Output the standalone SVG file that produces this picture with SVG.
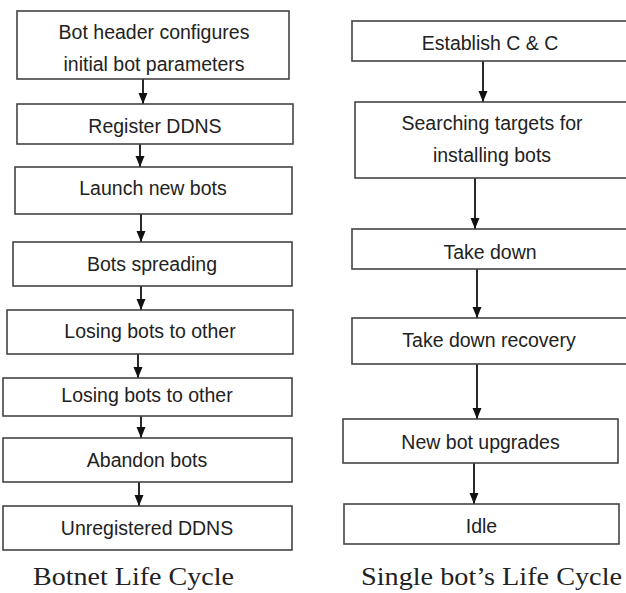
<svg xmlns="http://www.w3.org/2000/svg" width="626" height="593" viewBox="0 0 626 593">
<style>
.box{fill:#fff;stroke:#444;stroke-width:1.6}
.t{font-family:"Liberation Sans",Arial,sans-serif;font-size:19.5px;fill:#222;text-anchor:middle}
.cap{font-family:"Liberation Serif","Times New Roman",serif;font-size:26px;fill:#222}
.c{stroke:#111;stroke-width:1.8;fill:none;marker-end:url(#ah)}
</style>
<defs>
<marker id="ah" markerUnits="userSpaceOnUse" markerWidth="12" markerHeight="10" refX="11" refY="5" orient="auto">
<path d="M0,0.5 L11,5 L0,9.5 z" fill="#111"/>
</marker>
</defs>
<rect width="626" height="593" fill="#fff"/>
<g id="connectors">
<line class="c" x1="143" y1="79" x2="143" y2="104"/>
<line class="c" x1="140" y1="144" x2="140" y2="167"/>
<line class="c" x1="141" y1="214" x2="141" y2="242"/>
<line class="c" x1="141" y1="286" x2="141" y2="310"/>
<line class="c" x1="138" y1="354" x2="138" y2="378"/>
<line class="c" x1="141" y1="416" x2="141" y2="438"/>
<line class="c" x1="139" y1="482" x2="139" y2="506"/>
<line class="c" x1="483" y1="61" x2="483" y2="102"/>
<line class="c" x1="475" y1="178" x2="475" y2="229"/>
<line class="c" x1="477" y1="269" x2="477" y2="318"/>
<line class="c" x1="477" y1="364" x2="477" y2="419"/>
<line class="c" x1="474" y1="463" x2="474" y2="504"/>
</g>
<g id="l1"><rect class="box" x="17" y="11" width="272" height="68"/><text class="t" x="154" y="39">Bot header configures</text><text class="t" x="154" y="71">initial bot parameters</text></g>
<g id="l2"><rect class="box" x="17" y="104" width="276" height="40"/><text class="t" x="155" y="133">Register DDNS</text></g>
<g id="l3"><rect class="box" x="15" y="167" width="277" height="47"/><text class="t" x="153" y="195">Launch new bots</text></g>
<g id="l4"><rect class="box" x="13" y="242" width="279" height="44"/><text class="t" x="152" y="271">Bots spreading</text></g>
<g id="l5"><rect class="box" x="7" y="310" width="286" height="44"/><text class="t" x="150" y="338">Losing bots to other</text></g>
<g id="l6"><rect class="box" x="3" y="378" width="289" height="38"/><text class="t" x="147" y="402">Losing bots to other</text></g>
<g id="l7"><rect class="box" x="3" y="438" width="289" height="44"/><text class="t" x="147" y="467">Abandon bots</text></g>
<g id="l8"><rect class="box" x="3" y="506" width="289" height="44"/><text class="t" x="147" y="535">Unregistered DDNS</text></g>
<g id="r1"><rect class="box" x="352" y="21" width="280" height="40"/><text class="t" x="490" y="50">Establish C &amp; C</text></g>
<g id="r2"><rect class="box" x="355" y="102" width="277" height="76"/><text class="t" x="492" y="130">Searching targets for</text><text class="t" x="492" y="162">installing bots</text></g>
<g id="r3"><rect class="box" x="352" y="229" width="280" height="40"/><text class="t" x="490" y="259">Take down</text></g>
<g id="r4"><rect class="box" x="352" y="318" width="280" height="46"/><text class="t" x="489" y="347">Take down recovery</text></g>
<g id="r5"><rect class="box" x="343" y="419" width="275" height="44"/><text class="t" x="480.5" y="449">New bot upgrades</text></g>
<g id="r6"><rect class="box" x="344" y="504" width="275" height="40"/><text class="t" x="481.5" y="533">Idle</text></g>
<g id="captions">
<text class="cap" x="33" y="585" textLength="201" lengthAdjust="spacingAndGlyphs">Botnet Life Cycle</text>
<text class="cap" x="361" y="585" textLength="261" lengthAdjust="spacingAndGlyphs">Single bot’s Life Cycle</text>
</g>
</svg>
